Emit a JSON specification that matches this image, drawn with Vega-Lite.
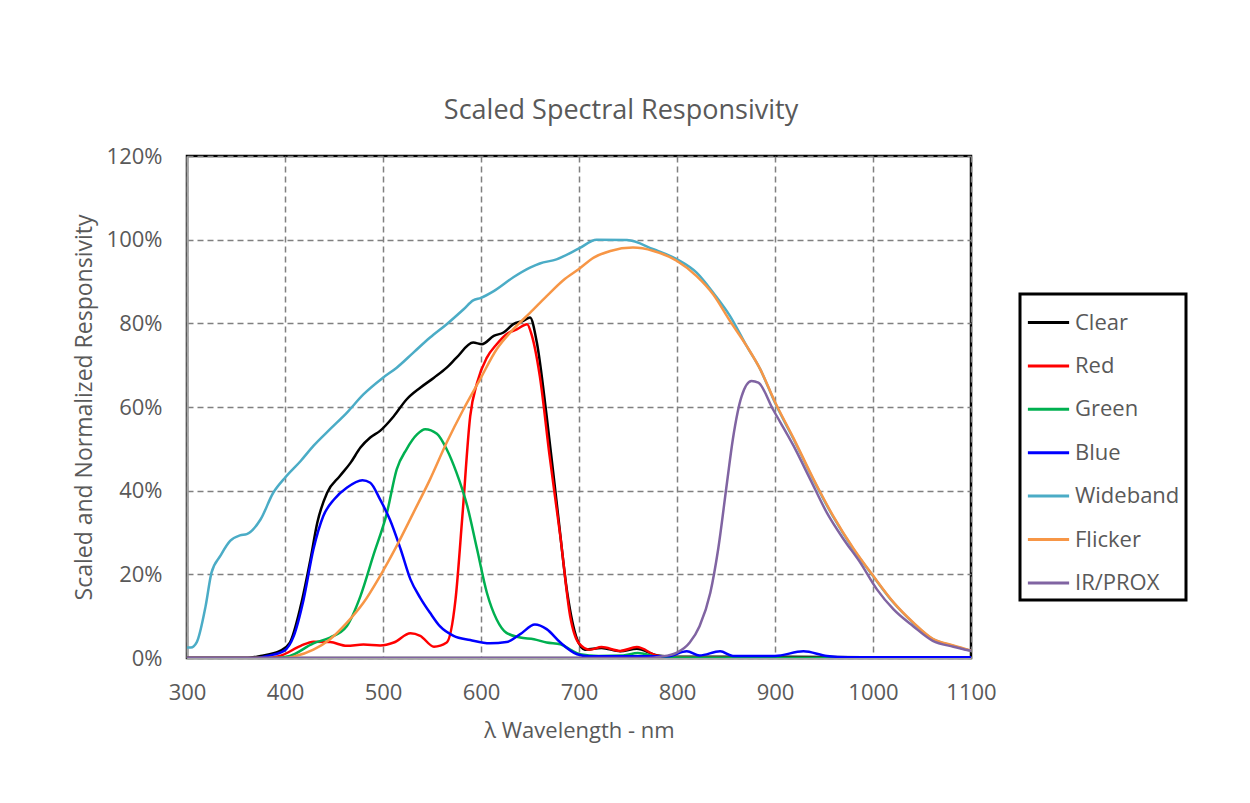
{
  "$schema": "https://vega.github.io/schema/vega-lite/v6.json",
  "width": 784,
  "height": 502,
  "autosize": "none",
  "padding": {"left": 187, "top": 156, "right": 279, "bottom": 145},
  "background": "white",
  "title": {"text": "Scaled Spectral Responsivity", "font": "Open Sans", "fontSize": 27, "fontWeight": "normal", "color": "#595959", "offset": 20, "dx": 42},
  "config": {
    "view": {"stroke": "#000000", "strokeWidth": 2.5},
    "axis": {"labelFont": "Open Sans", "titleFont": "Open Sans", "labelColor": "#595959", "titleColor": "#595959", "labelFontSize": 22, "titleFontSize": 22, "titleFontWeight": "normal", "ticks": false, "gridColor": "#808080", "gridDash": [6, 4], "gridWidth": 1.5, "domainColor": "#a6a6a6", "domainWidth": 2, "labelFlush": false}
  },
  "data": {"values": [
    {"s":"Clear","x":300,"y":0},{"s":"Clear","x":360,"y":0},{"s":"Clear","x":375,"y":0.5},{"s":"Clear","x":395,"y":1.7},{"s":"Clear","x":405,"y":3.7},{"s":"Clear","x":416,"y":12.4},{"s":"Clear","x":426,"y":23.6},{"s":"Clear","x":433,"y":32.4},{"s":"Clear","x":443,"y":39.5},{"s":"Clear","x":456,"y":43.5},{"s":"Clear","x":467,"y":46.7},{"s":"Clear","x":477,"y":50.3},{"s":"Clear","x":487,"y":52.7},{"s":"Clear","x":497,"y":54.3},{"s":"Clear","x":511,"y":57.8},{"s":"Clear","x":524,"y":61.8},{"s":"Clear","x":538,"y":64.6},{"s":"Clear","x":552,"y":67},{"s":"Clear","x":565,"y":69.4},{"s":"Clear","x":575,"y":71.8},{"s":"Clear","x":592,"y":75.4},{"s":"Clear","x":601,"y":75},{"s":"Clear","x":613,"y":77},{"s":"Clear","x":623,"y":77.8},{"s":"Clear","x":633,"y":79.8},{"s":"Clear","x":643,"y":80.6},{"s":"Clear","x":650,"y":81.4},{"s":"Clear","x":657,"y":75.4},{"s":"Clear","x":667,"y":57.8},{"s":"Clear","x":678,"y":35.5},{"s":"Clear","x":688,"y":15.6},{"s":"Clear","x":698,"y":4.5},{"s":"Clear","x":706,"y":2},{"s":"Clear","x":723,"y":2.4},{"s":"Clear","x":742,"y":1.6},{"s":"Clear","x":759,"y":2.2},{"s":"Clear","x":780,"y":0.6},{"s":"Clear","x":800,"y":0.3},{"s":"Clear","x":900,"y":0.3},{"s":"Clear","x":1000,"y":0.2},{"s":"Clear","x":1100,"y":0.2},
    {"s":"Red","x":300,"y":0},{"s":"Red","x":380,"y":0},{"s":"Red","x":395,"y":0.5},{"s":"Red","x":416,"y":2.9},{"s":"Red","x":429,"y":3.9},{"s":"Red","x":446,"y":3.8},{"s":"Red","x":463,"y":2.9},{"s":"Red","x":480,"y":3.2},{"s":"Red","x":497,"y":3},{"s":"Red","x":511,"y":3.7},{"s":"Red","x":528,"y":5.9},{"s":"Red","x":538,"y":5.3},{"s":"Red","x":552,"y":2.7},{"s":"Red","x":565,"y":3.7},{"s":"Red","x":574,"y":14},{"s":"Red","x":581,"y":33.9},{"s":"Red","x":589,"y":57.8},{"s":"Red","x":596,"y":65.8},{"s":"Red","x":606,"y":71.8},{"s":"Red","x":616,"y":75},{"s":"Red","x":626,"y":77.4},{"s":"Red","x":637,"y":78.6},{"s":"Red","x":647,"y":79.8},{"s":"Red","x":652,"y":77},{"s":"Red","x":660,"y":67.4},{"s":"Red","x":670,"y":48.3},{"s":"Red","x":681,"y":29},{"s":"Red","x":691,"y":10},{"s":"Red","x":700,"y":3.5},{"s":"Red","x":711,"y":2},{"s":"Red","x":723,"y":2.6},{"s":"Red","x":742,"y":1.7},{"s":"Red","x":759,"y":2.6},{"s":"Red","x":779,"y":0.6},{"s":"Red","x":790,"y":0.2},{"s":"Red","x":900,"y":0},{"s":"Red","x":1100,"y":0},
    {"s":"Green","x":300,"y":0},{"s":"Green","x":390,"y":0},{"s":"Green","x":405,"y":0.5},{"s":"Green","x":429,"y":3.5},{"s":"Green","x":446,"y":4.9},{"s":"Green","x":463,"y":7.6},{"s":"Green","x":477,"y":14.8},{"s":"Green","x":490,"y":24.4},{"s":"Green","x":504,"y":34.7},{"s":"Green","x":514,"y":45.1},{"s":"Green","x":524,"y":49.9},{"s":"Green","x":535,"y":53.5},{"s":"Green","x":543,"y":54.7},{"s":"Green","x":555,"y":53.6},{"s":"Green","x":565,"y":49.9},{"s":"Green","x":575,"y":44.3},{"s":"Green","x":586,"y":36.3},{"s":"Green","x":596,"y":26},{"s":"Green","x":606,"y":15.6},{"s":"Green","x":616,"y":9.2},{"s":"Green","x":626,"y":6},{"s":"Green","x":640,"y":4.9},{"s":"Green","x":654,"y":4.5},{"s":"Green","x":667,"y":3.7},{"s":"Green","x":681,"y":3.3},{"s":"Green","x":691,"y":2},{"s":"Green","x":701,"y":0.9},{"s":"Green","x":720,"y":0.5},{"s":"Green","x":745,"y":0.6},{"s":"Green","x":760,"y":1.2},{"s":"Green","x":780,"y":0.3},{"s":"Green","x":800,"y":0.1},{"s":"Green","x":1100,"y":0},
    {"s":"Blue","x":300,"y":0},{"s":"Blue","x":370,"y":0},{"s":"Blue","x":382,"y":0.5},{"s":"Blue","x":399,"y":1.7},{"s":"Blue","x":409,"y":5.3},{"s":"Blue","x":419,"y":14},{"s":"Blue","x":429,"y":26},{"s":"Blue","x":439,"y":33.9},{"s":"Blue","x":450,"y":37.9},{"s":"Blue","x":463,"y":40.7},{"s":"Blue","x":479,"y":42.5},{"s":"Blue","x":487,"y":41.9},{"s":"Blue","x":497,"y":37.9},{"s":"Blue","x":507,"y":33.1},{"s":"Blue","x":518,"y":26},{"s":"Blue","x":528,"y":18.8},{"s":"Blue","x":538,"y":14.4},{"s":"Blue","x":548,"y":10.8},{"s":"Blue","x":558,"y":7.6},{"s":"Blue","x":572,"y":5.3},{"s":"Blue","x":589,"y":4.3},{"s":"Blue","x":609,"y":3.5},{"s":"Blue","x":626,"y":3.8},{"s":"Blue","x":640,"y":5.7},{"s":"Blue","x":655,"y":8},{"s":"Blue","x":667,"y":6.9},{"s":"Blue","x":681,"y":3.7},{"s":"Blue","x":698,"y":0.9},{"s":"Blue","x":710,"y":0.4},{"s":"Blue","x":790,"y":0.4},{"s":"Blue","x":810,"y":1.6},{"s":"Blue","x":823,"y":0.6},{"s":"Blue","x":844,"y":1.6},{"s":"Blue","x":857,"y":0.5},{"s":"Blue","x":900,"y":0.5},{"s":"Blue","x":929,"y":1.6},{"s":"Blue","x":953,"y":0.5},{"s":"Blue","x":975,"y":0.2},{"s":"Blue","x":1100,"y":0.2},
    {"s":"Wideband","x":300,"y":2.5},{"s":"Wideband","x":304,"y":2.5},{"s":"Wideband","x":310,"y":3.8},{"s":"Wideband","x":319,"y":12.4},{"s":"Wideband","x":325,"y":20.4},{"s":"Wideband","x":334,"y":24.4},{"s":"Wideband","x":344,"y":28},{"s":"Wideband","x":354,"y":29.3},{"s":"Wideband","x":361,"y":29.6},{"s":"Wideband","x":375,"y":33.1},{"s":"Wideband","x":388,"y":39.5},{"s":"Wideband","x":400,"y":43.1},{"s":"Wideband","x":416,"y":47.1},{"s":"Wideband","x":429,"y":50.7},{"s":"Wideband","x":446,"y":54.7},{"s":"Wideband","x":463,"y":58.6},{"s":"Wideband","x":480,"y":63},{"s":"Wideband","x":500,"y":67},{"s":"Wideband","x":514,"y":69.4},{"s":"Wideband","x":531,"y":73},{"s":"Wideband","x":548,"y":76.6},{"s":"Wideband","x":565,"y":79.8},{"s":"Wideband","x":582,"y":83.3},{"s":"Wideband","x":592,"y":85.5},{"s":"Wideband","x":600,"y":86.1},{"s":"Wideband","x":613,"y":87.7},{"s":"Wideband","x":633,"y":91},{"s":"Wideband","x":650,"y":93.3},{"s":"Wideband","x":660,"y":94.3},{"s":"Wideband","x":677,"y":95.3},{"s":"Wideband","x":700,"y":97.9},{"s":"Wideband","x":718,"y":100},{"s":"Wideband","x":749,"y":99.9},{"s":"Wideband","x":776,"y":97.7},{"s":"Wideband","x":800,"y":95.3},{"s":"Wideband","x":820,"y":92.1},{"s":"Wideband","x":837,"y":87.3},{"s":"Wideband","x":854,"y":81.8},{"s":"Wideband","x":871,"y":74.6},{"s":"Wideband","x":885,"y":69},{"s":"Wideband","x":900,"y":61},{"s":"Wideband","x":919,"y":52.3},{"s":"Wideband","x":939,"y":42.7},{"s":"Wideband","x":959,"y":33.9},{"s":"Wideband","x":980,"y":26},{"s":"Wideband","x":1000,"y":19.6},{"s":"Wideband","x":1021,"y":13.2},{"s":"Wideband","x":1041,"y":8.4},{"s":"Wideband","x":1061,"y":4.5},{"s":"Wideband","x":1082,"y":2.9},{"s":"Wideband","x":1100,"y":1.7},
    {"s":"Flicker","x":300,"y":0},{"s":"Flicker","x":400,"y":0},{"s":"Flicker","x":410,"y":0.4},{"s":"Flicker","x":429,"y":2},{"s":"Flicker","x":446,"y":4.5},{"s":"Flicker","x":463,"y":8.4},{"s":"Flicker","x":480,"y":13.2},{"s":"Flicker","x":497,"y":19.6},{"s":"Flicker","x":514,"y":26.8},{"s":"Flicker","x":531,"y":34.7},{"s":"Flicker","x":548,"y":42.7},{"s":"Flicker","x":565,"y":51.5},{"s":"Flicker","x":582,"y":59.4},{"s":"Flicker","x":599,"y":66.6},{"s":"Flicker","x":616,"y":73.8},{"s":"Flicker","x":633,"y":78.6},{"s":"Flicker","x":650,"y":82.5},{"s":"Flicker","x":667,"y":86.5},{"s":"Flicker","x":684,"y":90.3},{"s":"Flicker","x":700,"y":93},{"s":"Flicker","x":715,"y":95.7},{"s":"Flicker","x":732,"y":97.3},{"s":"Flicker","x":755,"y":98.1},{"s":"Flicker","x":776,"y":97.3},{"s":"Flicker","x":800,"y":94.9},{"s":"Flicker","x":820,"y":91.3},{"s":"Flicker","x":837,"y":86.9},{"s":"Flicker","x":854,"y":80.6},{"s":"Flicker","x":871,"y":74.6},{"s":"Flicker","x":885,"y":69},{"s":"Flicker","x":900,"y":61.2},{"s":"Flicker","x":919,"y":52.5},{"s":"Flicker","x":939,"y":42.9},{"s":"Flicker","x":959,"y":34.1},{"s":"Flicker","x":980,"y":26.2},{"s":"Flicker","x":1000,"y":19.7},{"s":"Flicker","x":1021,"y":13.3},{"s":"Flicker","x":1041,"y":8.5},{"s":"Flicker","x":1061,"y":4.6},{"s":"Flicker","x":1082,"y":3},{"s":"Flicker","x":1100,"y":1.8},
    {"s":"IR/PROX","x":300,"y":0},{"s":"IR/PROX","x":770,"y":0},{"s":"IR/PROX","x":783,"y":0.3},{"s":"IR/PROX","x":800,"y":1.3},{"s":"IR/PROX","x":813,"y":3.7},{"s":"IR/PROX","x":823,"y":7.6},{"s":"IR/PROX","x":834,"y":15.6},{"s":"IR/PROX","x":842,"y":26},{"s":"IR/PROX","x":851,"y":41.9},{"s":"IR/PROX","x":857,"y":52.3},{"s":"IR/PROX","x":866,"y":62.6},{"s":"IR/PROX","x":876,"y":66.2},{"s":"IR/PROX","x":883,"y":65.8},{"s":"IR/PROX","x":898,"y":59.4},{"s":"IR/PROX","x":919,"y":50.7},{"s":"IR/PROX","x":936,"y":42.7},{"s":"IR/PROX","x":953,"y":34.7},{"s":"IR/PROX","x":970,"y":28.4},{"s":"IR/PROX","x":987,"y":22.8},{"s":"IR/PROX","x":1004,"y":16.4},{"s":"IR/PROX","x":1021,"y":11.6},{"s":"IR/PROX","x":1041,"y":7.6},{"s":"IR/PROX","x":1061,"y":4.1},{"s":"IR/PROX","x":1082,"y":2.7},{"s":"IR/PROX","x":1100,"y":1.7}
  ]},
  "mark": {"type": "line", "strokeWidth": 2.5, "interpolate": "monotone", "clip": true},
  "encoding": {
    "x": {"field": "x", "type": "quantitative", "scale": {"domain": [300, 1100], "nice": false}, "axis": {"values": [300,400,500,600,700,800,900,1000,1100], "format": "d", "title": "λ Wavelength  - nm", "labelPadding": 24, "titlePadding": 17}},
    "y": {"field": "y", "type": "quantitative", "scale": {"domain": [0, 120], "nice": false}, "axis": {"values": [0,20,40,60,80,100,120], "labelExpr": "datum.value + '%'", "title": "Scaled and Normalized Responsivity", "titleFontSize": 23, "labelPadding": 25, "titlePadding": 10}},
    "color": {"field": "s", "type": "nominal", "scale": {"domain": ["Clear","Red","Green","Blue","Wideband","Flicker","IR/PROX"], "range": ["#000000","#FF0000","#00B050","#0000FF","#4BACC6","#F79646","#8064A2"]}, "legend": {"title": null, "orient": "none", "legendX": 833, "legendY": 138, "symbolType": "stroke", "symbolSize": 1700, "symbolStrokeWidth": 3, "labelFont": "Open Sans", "labelFontSize": 22, "labelColor": "#595959", "labelOffset": 4, "rowPadding": 9.4, "padding": 6, "strokeColor": "#000000", "fillColor": "white", "encode": {"legend": {"update": {"strokeWidth": {"value": 3}}}}}},
    "order": {"field": "x", "type": "quantitative"}
  }
}
